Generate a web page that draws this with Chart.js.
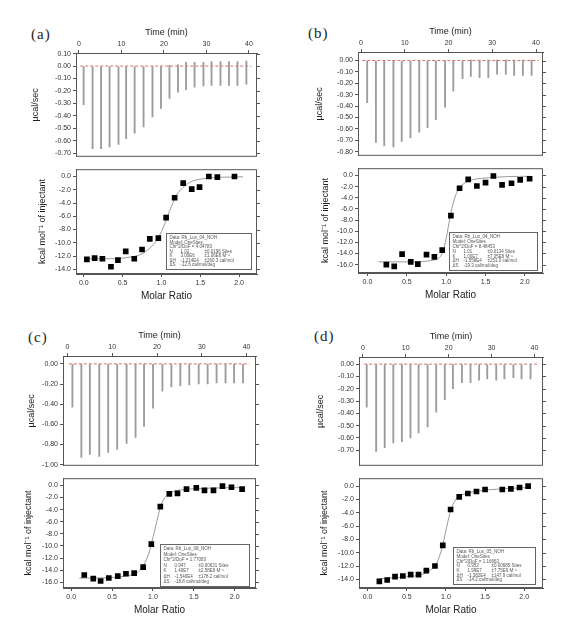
<!DOCTYPE html>
<html>
<head>
<meta charset="utf-8">
<script src="https://cdn.jsdelivr.net/npm/chart.js@4.4.0/dist/chart.umd.min.js"></script>
<style>
  body { margin: 0; background: #fff; width: 565px; height: 637px; position: relative; overflow: hidden; }
  canvas { position: absolute; }
  .tag { position: absolute; font-family: "Liberation Serif", serif; font-size: 15px; letter-spacing: 1px; color: #222; }
</style>
</head>
<body>
<div class="tag" style="left:31px;top:26px">(a)</div>
<div class="tag" style="left:308px;top:25px">(b)</div>
<div class="tag" style="left:28px;top:329px">(c)</div>
<div class="tag" style="left:314px;top:328px">(d)</div>

<script>
// shared tick labels
const timeTicks = [0, 10, 20, 30, 40]
const ratioTicks = [0, 0.5, 1.0, 1.5, 2.0]
const baseT = [0.3, 40.6]

// (a) raw heat
const timesA = [1.1, 3.2, 5.2, 7.2, 9.3, 11.1, 13.1, 15.2, 17.3, 19.3, 21.3, 23.3, 25.2, 27.2, 29.3, 31.2, 33.3, 35.3, 37.3, 39.4]
const depthsA = [-0.31, -0.665, -0.665, -0.65, -0.63, -0.585, -0.54, -0.49, -0.41, -0.34, -0.26, -0.21, -0.19, -0.17, -0.16, -0.155, -0.155, -0.155, -0.155, -0.145]
const tipsA = [0, 0, 0, 0, 0, 0, 0, 0, 0, 0, 0.005, 0.01, 0.03, 0.03, 0.03, 0.035, 0.035, 0.035, 0.035, 0.04]
const rawTicksA = [0.10, 0.00, -0.10, -0.20, -0.30, -0.40, -0.50, -0.60, -0.70]
// (a) integrated heat
const ratioA = [0.04, 0.14, 0.24, 0.35, 0.44, 0.54, 0.65, 0.75, 0.85, 0.96, 1.06, 1.17, 1.28, 1.39, 1.49, 1.61, 1.72, 1.94]
const heatA = [-12.5, -12.3, -12.4, -13.6, -12.6, -11.3, -12.4, -11.0, -9.4, -9.3, -6.2, -3.2, -1.0, -1.9, -1.6, 0.0, -0.1, 0.0]
const fitRatioA = [0.04, 0.3, 0.5, 0.7, 0.8, 0.9, 0.95, 1.0, 1.05, 1.1, 1.15, 1.2, 1.3, 1.4, 1.5, 1.7, 2.05]
const fitHeatA = [-12.4, -12.4, -12.3, -11.9, -11.3, -10.2, -9.4, -8.3, -6.9, -5.3, -3.9, -2.7, -1.4, -0.7, -0.4, -0.15, -0.05]
const heatTicksA = [0, -2, -4, -6, -8, -10, -12, -14]

// (b)
const timesB = [1.4, 3.4, 5.3, 7.4, 9.3, 11.3, 13.3, 15.2, 17.1, 19.2, 21.1, 23.2, 25.1, 27.1, 29.1, 31.1, 33.1, 35.0, 37.0, 39.0]
const depthsB = [-0.37, -0.72, -0.75, -0.76, -0.71, -0.68, -0.63, -0.59, -0.52, -0.41, -0.27, -0.16, -0.14, -0.15, -0.15, -0.12, -0.12, -0.13, -0.13, -0.13]
const tipsB = [0, 0, 0, 0, 0, 0, 0, 0, 0, 0, 0, 0, 0.005, 0.005, 0.005, 0.005, 0.005, 0.005, 0.005, 0.005]
const rawTicksB = [0.00, -0.10, -0.20, -0.30, -0.40, -0.50, -0.60, -0.70, -0.80]
const ratioB = [0.24, 0.34, 0.44, 0.55, 0.64, 0.75, 0.85, 0.95, 1.06, 1.17, 1.28, 1.39, 1.50, 1.60, 1.71, 1.83, 1.94, 2.06]
const heatB = [-16.0, -16.3, -14.1, -15.5, -15.9, -14.2, -14.6, -13.4, -7.2, -2.3, -0.7, -1.9, -1.3, -0.1, -1.7, -1.4, -0.8, -0.6]
const fitRatioB = [0.14, 0.4, 0.6, 0.8, 0.9, 0.95, 1.0, 1.05, 1.1, 1.15, 1.2, 1.3, 1.4, 1.6, 1.8, 2.06]
const fitHeatB = [-15.5, -15.5, -15.5, -15.3, -14.9, -14.0, -11.3, -7.4, -4.4, -2.6, -1.7, -0.9, -0.6, -0.35, -0.2, -0.15]
const heatTicksB = [0, -2, -4, -6, -8, -10, -12, -14, -16]

// (c)
const timesC = [1.1, 3.1, 5.0, 7.1, 9.1, 11.1, 13.2, 15.2, 17.1, 19.1, 21.2, 23.2, 25.2, 27.2, 29.3, 31.3, 33.3, 35.3, 37.2, 39.2]
const depthsC = [-0.43, -0.93, -0.90, -0.92, -0.88, -0.85, -0.79, -0.73, -0.62, -0.44, -0.27, -0.23, -0.22, -0.21, -0.20, -0.20, -0.19, -0.19, -0.19, -0.19]
const tipsC = [0, 0, 0, 0, 0, 0, 0, 0, 0, 0, 0, 0, 0, 0, 0, 0, 0, 0, 0, 0]
const rawTicksC = [0.00, -0.20, -0.40, -0.60, -0.80, -1.00]
const ratioC = [0.16, 0.27, 0.36, 0.46, 0.57, 0.67, 0.77, 0.88, 0.98, 1.09, 1.20, 1.30, 1.41, 1.53, 1.63, 1.74, 1.85, 1.96, 2.09]
const heatC = [-14.8, -15.4, -15.8, -15.3, -15.0, -14.6, -14.5, -13.5, -9.7, -3.5, -1.4, -1.3, -0.6, -0.4, -0.8, -0.8, -0.1, -0.3, -0.6]
const fitRatioC = [0.1, 0.3, 0.5, 0.7, 0.8, 0.85, 0.9, 0.95, 1.0, 1.05, 1.1, 1.15, 1.2, 1.3, 1.5, 1.8, 2.09]
const fitHeatC = [-15.3, -15.3, -15.2, -14.9, -14.5, -13.9, -12.8, -11.2, -8.6, -5.8, -3.2, -1.9, -1.3, -0.8, -0.55, -0.4, -0.35]
const heatTicksC = [0, -2, -4, -6, -8, -10, -12, -14, -16]

// (d)
const timesD = [0.9, 3.1, 5.1, 7.1, 9.1, 11.1, 13.0, 15.1, 17.1, 19.1, 21.0, 23.1, 25.1, 27.1, 29.0, 31.1, 33.0, 35.1, 37.0, 39.1]
const depthsD = [-0.35, -0.71, -0.68, -0.64, -0.63, -0.60, -0.56, -0.51, -0.39, -0.29, -0.20, -0.15, -0.15, -0.13, -0.12, -0.13, -0.12, -0.11, -0.12, -0.12]
const tipsD = [0, 0, 0, 0, 0, 0, 0, 0, 0, 0, 0, 0, 0, 0, 0, 0, 0, 0, 0, 0]
const rawTicksD = [0.00, -0.10, -0.20, -0.30, -0.40, -0.50, -0.60, -0.70]
const ratioD = [0.15, 0.25, 0.35, 0.45, 0.55, 0.65, 0.75, 0.86, 0.96, 1.06, 1.17, 1.28, 1.39, 1.50, 1.72, 1.83, 1.94, 2.05]
const heatD = [-14.3, -14.1, -13.6, -13.5, -13.3, -13.3, -12.7, -12.0, -8.9, -3.5, -1.6, -1.1, -0.8, -0.5, -0.5, -0.4, -0.2, 0.0]
const fitRatioD = [0.15, 0.4, 0.6, 0.75, 0.85, 0.9, 0.95, 1.0, 1.05, 1.1, 1.15, 1.2, 1.3, 1.5, 1.8, 2.05]
const fitHeatD = [-13.9, -13.7, -13.5, -13.0, -12.1, -11.1, -9.3, -6.7, -4.1, -2.5, -1.7, -1.3, -0.95, -0.6, -0.35, -0.2]
const heatTicksD = [0, -2, -4, -6, -8, -10, -12, -14]

// fit result boxes
const infoA = [["Data: Rb_Lux_04_NOH"], ["Model: OneSites"], ["Chi^2/DoF = 4.04783"], ["N", "1.02", "\u00b10.0196 Sites"], ["K", "3.00E6", "\u00b11.06E6 M\u207b\u00b9"], ["\u0394H", "-1.214E4", "\u00b1260.3 cal/mol"], ["\u0394S", "-12.6 cal/mol/deg"]]
const infoB = [["Data: Rb_Lux_04_NOH"], ["Model: OneSites"], ["Chi^2/DoF = 8.48453"], ["N", "1.01", "\u00b10.0134 Sites"], ["K", "1.00E7", "\u00b17.05E6 M\u207b\u00b9"], ["\u0394H", "-1.558E4", "\u00b1251.0 cal/mol"], ["\u0394S", "-19.3 cal/mol/deg"]]
const infoC = [["Data: Rb_Lux_08_NOH"], ["Model: OneSites"], ["Chi^2/DoF = 1.77083"], ["N", "0.947", "\u00b10.00631 Sites"], ["K", "1.40E7", "\u00b12.58E6 M\u207b\u00b9"], ["\u0394H", "-1.540E4", "\u00b1178.2 cal/mol"], ["\u0394S", "-18.8 cal/mol/deg"]]
const infoD = [["Data: Rb_Lux_05_NOH"], ["Model: OneSites"], ["Chi^2/DoF = 1.16663"], ["N", "0.953", "\u00b10.00685 Sites"], ["K", "1.99E7", "\u00b17.75E6 M\u207b\u00b9"], ["\u0394H", "-1.382E4", "\u00b1147.9 cal/mol"], ["\u0394S", "-14.2 cal/mol/deg"]]

const FONT = '"Liberation Sans", Arial, sans-serif'
const AXW = 62, TOPH = 34, BOTH = 34, PADR = 8

const panels = [
  { L: 76, R: 257, T: 53, D: 163, B: 274, raw: [-0.73, 0.105], heat: [-14.7, 1.1], time: [-0.7, 41.9], ratio: [-0.10, 2.23], muOff: 40, kcOff: 33,
    times: timesA, depths: depthsA, tips: tipsA, rawTicks: rawTicksA, x: ratioA, y: heatA, fx: fitRatioA, fy: fitHeatA, heatTicks: heatTicksA,
    info: infoA, box: { right: 6, bottom: 5, w: 85, h: 36 } },
  { L: 358, R: 543, T: 52, D: 162, B: 273, raw: [-0.837, 0.075], heat: [-17.5, 1.3], time: [-0.7, 41.6], ratio: [-0.12, 2.23], muOff: 38, kcOff: 32,
    times: timesB, depths: depthsB, tips: tipsB, rawTicks: rawTicksB, x: ratioB, y: heatB, fx: fitRatioB, fy: fitHeatB, heatTicks: heatTicksB,
    info: infoB, box: { right: 6, bottom: 3, w: 88, h: 38 } },
  { L: 63, R: 256, T: 356, D: 472, B: 588, raw: [-1.012, 0.078], heat: [-16.95, 1.2], time: [-1.0, 42.1], ratio: [-0.10, 2.26], muOff: 31, kcOff: 34,
    times: timesC, depths: depthsC, tips: tipsC, rawTicks: rawTicksC, x: ratioC, y: heatC, fx: fitRatioC, fy: fitHeatC, heatTicks: heatTicksC,
    info: infoC, box: { right: 7, bottom: 2, w: 89, h: 42 } },
  { L: 359, R: 543, T: 357, D: 472, B: 588, raw: [-0.827, 0.058], heat: [-15.3, 1.2], time: [-0.9, 42.0], ratio: [-0.11, 2.24], muOff: 38, kcOff: 34,
    times: timesD, depths: depthsD, tips: tipsD, rawTicks: rawTicksD, x: ratioD, y: heatD, fx: fitRatioD, fy: fitHeatD, heatTicks: heatTicksD,
    info: infoD, box: { right: 8, bottom: 4, w: 82, h: 37 } }
]

const framePlugin = {
  id: 'frame',
  afterDatasetsDraw(chart) {
    const { ctx, chartArea: a, scales } = chart
    ctx.save()
    ctx.strokeStyle = '#555'
    ctx.lineWidth = 1
    ctx.strokeRect(a.left + 0.5, a.top + 0.5, a.right - a.left - 1, a.bottom - a.top - 1)
    ctx.beginPath()
    scales.y.ticks.forEach(t => {
      const py = Math.round(scales.y.getPixelForValue(t.value)) + 0.5
      ctx.moveTo(a.right, py)
      ctx.lineTo(a.right + 3, py)
    })
    ctx.stroke()
    ctx.restore()
  }
}

function infoPlugin(lines, box) {
  return {
    id: 'info',
    afterDatasetsDraw(chart) {
      const { ctx, chartArea: a } = chart
      const x = Math.round(a.right - box.right - box.w) + 0.5
      const y = Math.round(a.bottom - box.bottom - box.h) + 0.5
      ctx.save()
      ctx.fillStyle = '#fff'
      ctx.fillRect(x, y, box.w, box.h)
      ctx.strokeStyle = '#666'
      ctx.lineWidth = 1
      ctx.strokeRect(x, y, box.w, box.h)
      ctx.font = '4.5px ' + FONT
      ctx.fillStyle = '#555'
      ctx.textBaseline = 'middle'
      const cols = [3, 14, 38]
      const step = (box.h - 4) / lines.length
      lines.forEach((row, i) => {
        row.forEach((s, j) => ctx.fillText(s, x + cols[j], y + 2 + step * (i + 0.5)))
      })
      ctx.restore()
    }
  }
}

function addCanvas(left, top, w, h) {
  const c = document.createElement('canvas')
  c.width = w
  c.height = h
  c.style.left = left + 'px'
  c.style.top = top + 'px'
  c.style.width = w + 'px'
  c.style.height = h + 'px'
  document.body.appendChild(c)
  return c
}

function tickOpts(fmt) {
  return { font: { size: 7, family: FONT }, color: '#333', padding: 2, autoSkip: false, maxRotation: 0, callback: fmt }
}
const gridOpts = { drawOnChartArea: false, tickLength: 3, color: '#555', offset: false }

panels.forEach(p => {
  const w = p.R - p.L + AXW + PADR

  // raw thermogram (top)
  const c1 = addCanvas(p.L - AXW, p.T - TOPH, w, p.D - p.T + TOPH)
  new Chart(c1, {
    type: 'bar',
    data: {
      datasets: [{
        type: 'bar',
        data: p.times.map((t, i) => ({ x: t, y: [p.tips[i], p.depths[i]] })),
        backgroundColor: '#9c9c9c',
        barThickness: 1.2,
        grouped: false,
        order: 0
      }, {
        type: 'line',
        data: baseT.map(t => ({ x: t, y: 0 })),
        borderColor: 'rgba(215,80,80,0.85)',
        borderWidth: 1,
        borderDash: [3, 2],
        pointRadius: 0,
        order: 1
      }]
    },
    options: {
      responsive: false,
      animation: false,
      devicePixelRatio: 1,
      layout: { padding: { right: PADR, left: 0, top: 0, bottom: 0 }, autoPadding: false },
      plugins: { legend: { display: false }, tooltip: { enabled: false } },
      scales: {
        x: {
          type: 'linear', position: 'top', offset: false, min: p.time[0], max: p.time[1],
          afterBuildTicks: s => { s.ticks = timeTicks.map(v => ({ value: v })) },
          afterFit: s => { s.height = TOPH },
          ticks: tickOpts(v => String(v)),
          grid: gridOpts, border: { color: '#555' },
          title: { display: true, text: 'Time (min)', color: '#222', font: { size: 9, family: FONT }, padding: { top: 8, bottom: 0 } }
        },
        y: {
          type: 'linear', min: p.raw[0], max: p.raw[1],
          afterBuildTicks: s => { s.ticks = p.rawTicks.map(v => ({ value: v })) },
          afterFit: s => { s.width = AXW },
          ticks: tickOpts(v => v.toFixed(2)),
          grid: gridOpts, border: { color: '#555' },
          title: { display: true, text: '\u00b5cal/sec', color: '#222', font: { size: 9, family: FONT }, padding: { top: AXW - p.muOff - 5.4, bottom: 0 } }
        }
      }
    },
    plugins: [framePlugin]
  })

  // integrated heats (bottom)
  const c2 = addCanvas(p.L - AXW, p.D, w, p.B - p.D + BOTH)
  new Chart(c2, {
    type: 'scatter',
    data: {
      datasets: [{
        data: p.x.map((v, i) => ({ x: v, y: p.y[i] })),
        pointStyle: 'rect',
        pointRadius: 4,
        backgroundColor: '#000',
        borderColor: '#000',
        borderWidth: 0,
        order: 0
      }, {
        type: 'line',
        data: p.fx.map((v, i) => ({ x: v, y: p.fy[i] })),
        borderColor: '#999',
        borderWidth: 1,
        pointRadius: 0,
        tension: 0.3,
        order: 1
      }]
    },
    options: {
      responsive: false,
      animation: false,
      devicePixelRatio: 1,
      layout: { padding: { right: PADR, left: 0, top: 0, bottom: 0 }, autoPadding: false },
      plugins: { legend: { display: false }, tooltip: { enabled: false } },
      scales: {
        x: {
          type: 'linear', position: 'bottom', min: p.ratio[0], max: p.ratio[1],
          afterBuildTicks: s => { s.ticks = ratioTicks.map(v => ({ value: v })) },
          afterFit: s => { s.height = BOTH },
          ticks: tickOpts(v => v.toFixed(1)),
          grid: gridOpts, border: { color: '#555' },
          title: { display: true, text: 'Molar Ratio', color: '#222', font: { size: 10, family: FONT }, padding: { top: 0, bottom: 6 } }
        },
        y: {
          type: 'linear', min: p.heat[0], max: p.heat[1],
          afterBuildTicks: s => { s.ticks = p.heatTicks.map(v => ({ value: v })) },
          afterFit: s => { s.width = AXW },
          ticks: tickOpts(v => v.toFixed(1)),
          grid: gridOpts, border: { color: '#555' },
          title: { display: true, text: 'kcal mol\u207b\u00b9 of injectant', color: '#222', font: { size: 9, family: FONT }, padding: { top: AXW - p.kcOff - 5.4, bottom: 0 } }
        }
      }
    },
    plugins: [framePlugin, infoPlugin(p.info, p.box)]
  })
})
</script>
</body>
</html>
